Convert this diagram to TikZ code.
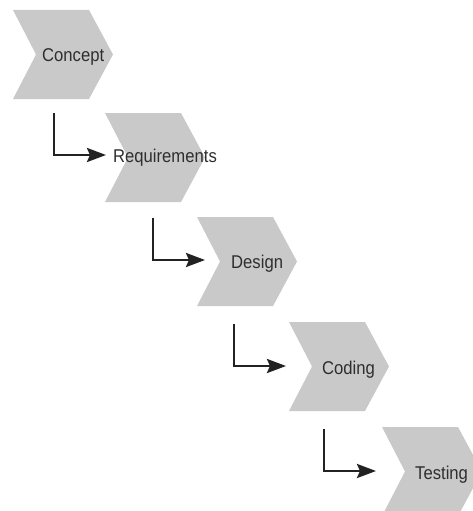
\documentclass[tikz,border=0pt]{standalone}
\usepackage{fontspec}
\setmainfont[FakeStretch=0.9]{Liberation Sans}
\usetikzlibrary{arrows.meta}
\definecolor{chev}{HTML}{C9C9C9}
\definecolor{ink}{HTML}{222222}
\definecolor{txt}{HTML}{2E2E2E}
\begin{document}
\begin{tikzpicture}[x=1pt,y=-1pt,
  chevron/.style={fill=chev,draw=none},
  lbl/.style={anchor=base west,inner sep=0pt,text=txt,font=\fontsize{18.5pt}{20pt}\selectfont},
  flow/.style={draw=ink,line width=2.8pt,-{Stealth[length=19pt,width=14pt,inset=3pt]}}]
\useasboundingbox (0,0) rectangle (473,511);
\clip (0,0) rectangle (473,511);
\foreach \n/\x/\y in {1/13/10,2/105/113,3/197/217,4/289/322,5/382/427}{
  \coordinate (c\n) at (\x,\y);
  \fill[chevron] (c\n) -- ++(76,0) -- ++(24,44.5) -- ++(-24,44.5) -- ++(-76,0) -- ++(23,-44.5) -- cycle;
}
\node[lbl] (t1) at (42,62) {Concept};
\node[lbl] (t2) at (113,162) {Requirements};
\node[lbl] (t3) at (231,268) {Design};
\node[lbl] (t4) at (322,374) {Coding};
\node[lbl] (t5) at (415,479) {Testing};
\coordinate (s1) at (54,113);  \coordinate (e1) at (106,155);
\coordinate (s2) at (153,218); \coordinate (e2) at (205,260);
\coordinate (s3) at (234,324); \coordinate (e3) at (286,366);
\coordinate (s4) at (324,429); \coordinate (e4) at (376,471);
\draw[flow] (s1) |- (e1);
\draw[flow] (s2) |- (e2);
\draw[flow] (s3) |- (e3);
\draw[flow] (s4) |- (e4);
\end{tikzpicture}
\end{document}
